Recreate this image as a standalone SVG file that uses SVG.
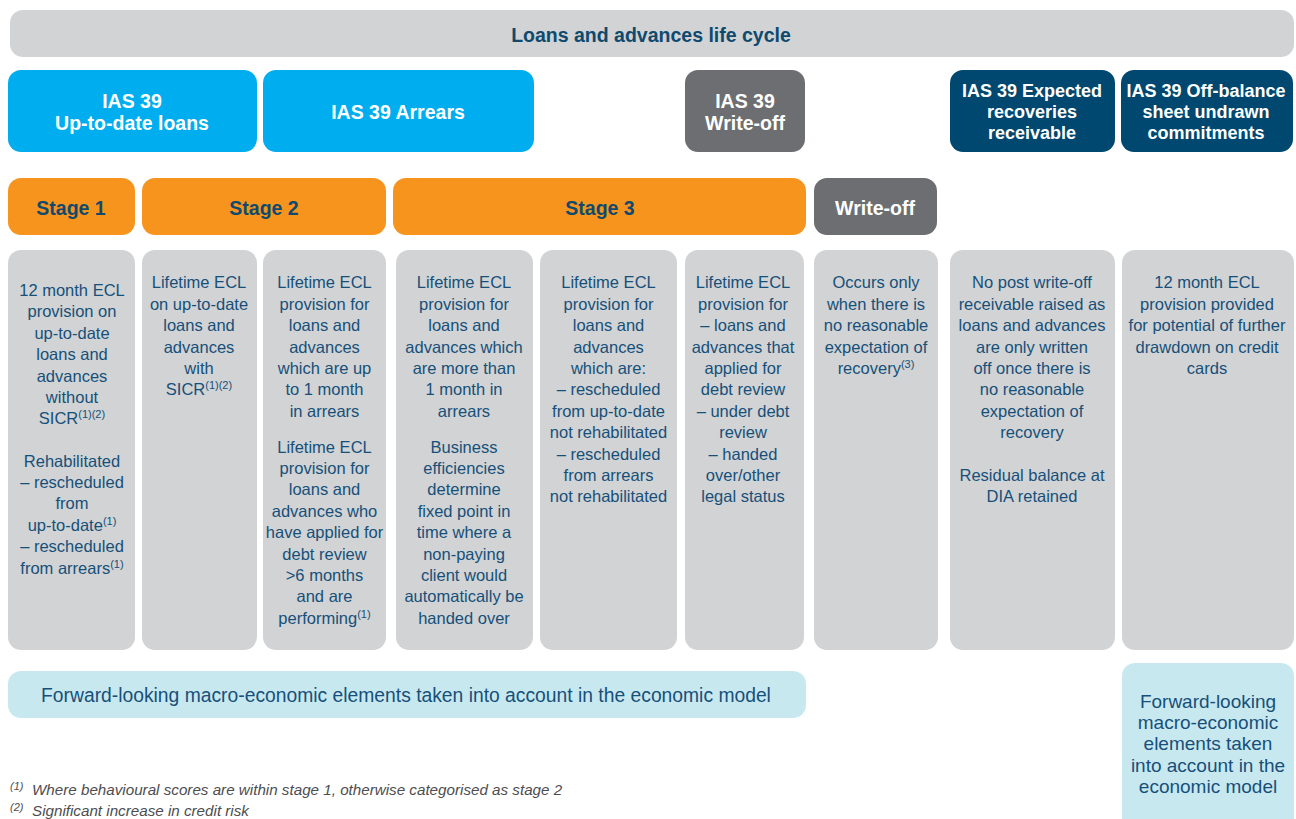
<svg xmlns="http://www.w3.org/2000/svg" width="1296" height="819" viewBox="0 0 1296 819">
<style>
text{font-family:"Liberation Sans",Arial,sans-serif;text-anchor:middle}
.hdr{fill:#d1d3d4}
.cyan{fill:#00aeef}
.grey{fill:#6d6e71}
.navy{fill:#00486f}
.orange{fill:#f7941d}
.col{fill:#d1d3d4}
.lb{fill:#c8e8f0}
.tw{fill:#ffffff;font-weight:bold;font-size:19.5px}
.tn{fill:#ffffff;font-weight:bold;font-size:18px}
.th{fill:#0f4a6e;font-weight:bold;font-size:19.5px}
.tc{fill:#16507a;font-size:16.5px}
.tb{fill:#16507a;font-size:19px}
.tbl{fill:#16507a;font-size:19.3px}
.fn{fill:#4d4d4f;font-style:italic;font-size:15.2px;text-anchor:start}
.sup{font-size:11px}
</style>
<g id="header">
<rect class="hdr" x="10" y="10" width="1284" height="47" rx="13"/>
<text class="th" x="651" y="41.5">Loans and advances life cycle</text>
</g>
<g id="ias-uptodate">
<rect class="cyan" x="8" y="70" width="249" height="82" rx="13"/>
<text class="tw" x="132" y="108">IAS 39</text>
<text class="tw" x="132" y="130">Up-to-date loans</text>
</g>
<g id="ias-arrears">
<rect class="cyan" x="263" y="70" width="271" height="82" rx="13"/>
<text class="tw" x="398" y="119">IAS 39 Arrears</text>
</g>
<g id="ias-writeoff">
<rect class="grey" x="685" y="70" width="120" height="82" rx="13"/>
<text class="tw" x="745" y="108">IAS 39</text>
<text class="tw" x="745" y="130">Write-off</text>
</g>
<g id="ias-recoveries">
<rect class="navy" x="950" y="70" width="165" height="82" rx="13"/>
<text class="tn" x="1032" y="96.5">IAS 39 Expected</text>
<text class="tn" x="1032" y="117.5">recoveries</text>
<text class="tn" x="1032" y="138.5">receivable</text>
</g>
<g id="ias-offbalance">
<rect class="navy" x="1121" y="70" width="172" height="82" rx="13"/>
<text class="tn" x="1206" y="96.5">IAS 39 Off-balance</text>
<text class="tn" x="1206" y="117.5">sheet undrawn</text>
<text class="tn" x="1206" y="138.5">commitments</text>
</g>
<g id="stage1">
<rect class="orange" x="8" y="178" width="127" height="57" rx="13"/>
<text class="th" x="71" y="215">Stage 1</text>
</g>
<g id="stage2">
<rect class="orange" x="142" y="178" width="244" height="57" rx="13"/>
<text class="th" x="264" y="215">Stage 2</text>
</g>
<g id="stage3">
<rect class="orange" x="393" y="178" width="413" height="57" rx="13"/>
<text class="th" x="600" y="215">Stage 3</text>
</g>
<g id="writeoff">
<rect class="grey" x="814" y="178" width="123" height="57" rx="13"/>
<text class="tw" x="875" y="215">Write-off</text>
</g>
<g id="col1">
<rect class="col" x="8" y="250" width="127" height="400" rx="13"/>
<text class="tc" x="72"><tspan x="72" y="296">12 month ECL</tspan><tspan x="72" y="317.4">provision on</tspan><tspan x="72" y="338.8">up-to-date</tspan><tspan x="72" y="360.2">loans and</tspan><tspan x="72" y="381.6">advances</tspan><tspan x="72" y="403">without</tspan></text>
<text class="tc" x="72" y="424.4">SICR<tspan class="sup" dy="-6">(1)(2)</tspan></text>
<text class="tc" x="72"><tspan x="72" y="466.5">Rehabilitated</tspan><tspan x="72" y="488">– rescheduled</tspan><tspan x="72" y="509.4">from</tspan></text>
<text class="tc" x="72" y="530.8">up-to-date<tspan class="sup" dy="-6">(1)</tspan></text>
<text class="tc" x="72" y="552.2">– rescheduled</text>
<text class="tc" x="72" y="573.6">from arrears<tspan class="sup" dy="-6">(1)</tspan></text>
</g>
<g id="col2">
<rect class="col" x="142" y="250" width="115" height="400" rx="13"/>
<text class="tc"><tspan x="199" y="288.3">Lifetime ECL</tspan><tspan x="199" y="309.7">on up-to-date</tspan><tspan x="199" y="331.1">loans and</tspan><tspan x="199" y="352.5">advances</tspan><tspan x="199" y="373.9">with</tspan></text>
<text class="tc" x="199" y="395.3">SICR<tspan class="sup" dy="-6">(1)(2)</tspan></text>
</g>
<g id="col3">
<rect class="col" x="263" y="250" width="123" height="400" rx="13"/>
<text class="tc"><tspan x="324.5" y="288.3">Lifetime ECL</tspan><tspan x="324.5" y="309.7">provision for</tspan><tspan x="324.5" y="331.1">loans and</tspan><tspan x="324.5" y="352.5">advances</tspan><tspan x="324.5" y="373.9">which are up</tspan><tspan x="324.5" y="395.3">to 1 month</tspan><tspan x="324.5" y="416.7">in arrears</tspan><tspan x="324.5" y="452.5">Lifetime ECL</tspan><tspan x="324.5" y="473.9">provision for</tspan><tspan x="324.5" y="495.3">loans and</tspan><tspan x="324.5" y="516.7">advances who</tspan><tspan x="324.5" y="538.1">have applied for</tspan><tspan x="324.5" y="559.5">debt review</tspan><tspan x="324.5" y="580.9">&gt;6 months</tspan><tspan x="324.5" y="602.3">and are</tspan></text>
<text class="tc" x="324.5" y="623.7">performing<tspan class="sup" dy="-6">(1)</tspan></text>
</g>
<g id="col4">
<rect class="col" x="396" y="250" width="137" height="400" rx="13"/>
<text class="tc"><tspan x="464" y="288.3">Lifetime ECL</tspan><tspan x="464" y="309.7">provision for</tspan><tspan x="464" y="331.1">loans and</tspan><tspan x="464" y="352.5">advances which</tspan><tspan x="464" y="373.9">are more than</tspan><tspan x="464" y="395.3">1 month in</tspan><tspan x="464" y="416.7">arrears</tspan><tspan x="464" y="452.5">Business</tspan><tspan x="464" y="473.9">efficiencies</tspan><tspan x="464" y="495.3">determine</tspan><tspan x="464" y="516.7">fixed point in</tspan><tspan x="464" y="538.1">time where a</tspan><tspan x="464" y="559.5">non-paying</tspan><tspan x="464" y="580.9">client would</tspan><tspan x="464" y="602.3">automatically be</tspan><tspan x="464" y="623.7">handed over</tspan></text>
</g>
<g id="col5">
<rect class="col" x="540" y="250" width="137" height="400" rx="13"/>
<text class="tc"><tspan x="608.5" y="288.3">Lifetime ECL</tspan><tspan x="608.5" y="309.7">provision for</tspan><tspan x="608.5" y="331.1">loans and</tspan><tspan x="608.5" y="352.5">advances</tspan><tspan x="608.5" y="373.9">which are:</tspan><tspan x="608.5" y="395.3">– rescheduled</tspan><tspan x="608.5" y="416.7">from up-to-date</tspan><tspan x="608.5" y="438.1">not rehabilitated</tspan><tspan x="608.5" y="459.5">– rescheduled</tspan><tspan x="608.5" y="480.9">from arrears</tspan><tspan x="608.5" y="502.3">not rehabilitated</tspan></text>
</g>
<g id="col6">
<rect class="col" x="685" y="250" width="119" height="400" rx="13"/>
<text class="tc"><tspan x="743" y="288.3">Lifetime ECL</tspan><tspan x="743" y="309.7">provision for</tspan><tspan x="743" y="331.1">– loans and</tspan><tspan x="743" y="352.5">advances that</tspan><tspan x="743" y="373.9">applied for</tspan><tspan x="743" y="395.3">debt review</tspan><tspan x="743" y="416.7">– under debt</tspan><tspan x="743" y="438.1">review</tspan><tspan x="743" y="459.5">– handed</tspan><tspan x="743" y="480.9">over/other</tspan><tspan x="743" y="502.3">legal status</tspan></text>
</g>
<g id="col7">
<rect class="col" x="814" y="250" width="124" height="400" rx="13"/>
<text class="tc"><tspan x="876" y="288.3">Occurs only</tspan><tspan x="876" y="309.7">when there is</tspan><tspan x="876" y="331.1">no reasonable</tspan><tspan x="876" y="352.5">expectation of</tspan></text>
<text class="tc" x="876" y="373.9">recovery<tspan class="sup" dy="-6">(3)</tspan></text>
</g>
<g id="col8">
<rect class="col" x="950" y="250" width="165" height="400" rx="13"/>
<text class="tc"><tspan x="1032" y="288.3">No post write-off</tspan><tspan x="1032" y="309.7">receivable raised as</tspan><tspan x="1032" y="331.1">loans and advances</tspan><tspan x="1032" y="352.5">are only written</tspan><tspan x="1032" y="373.9">off once there is</tspan><tspan x="1032" y="395.3">no reasonable</tspan><tspan x="1032" y="416.7">expectation of</tspan><tspan x="1032" y="438.1">recovery</tspan><tspan x="1032" y="480.5">Residual balance at</tspan><tspan x="1032" y="501.9">DIA retained</tspan></text>
</g>
<g id="col9">
<rect class="col" x="1122" y="250" width="172" height="400" rx="13"/>
<text class="tc"><tspan x="1207" y="288.3">12 month ECL</tspan><tspan x="1207" y="309.7">provision provided</tspan><tspan x="1207" y="331.1">for potential of further</tspan><tspan x="1207" y="352.5">drawdown on credit</tspan><tspan x="1207" y="373.9">cards</tspan></text>
</g>
<g id="forward-main">
<rect class="lb" x="8" y="671" width="798" height="47" rx="13"/>
<text class="tbl" x="406" y="701.5">Forward-looking macro-economic elements taken into account in the economic model</text>
</g>
<g id="forward-right">
<rect class="lb" x="1122" y="663" width="172" height="170" rx="13"/>
<text class="tb"><tspan x="1208" y="707.5">Forward-looking</tspan><tspan x="1208" y="728.8">macro-economic</tspan><tspan x="1208" y="750.2">elements taken</tspan><tspan x="1208" y="771.6">into account in the</tspan><tspan x="1208" y="793">economic model</tspan></text>
</g>
<g id="footnotes">
<text class="fn" x="10" y="790"><tspan class="sup">(1)</tspan></text>
<text class="fn" x="32" y="795">Where behavioural scores are within stage 1, otherwise categorised as stage 2</text>
<text class="fn" x="10" y="811"><tspan class="sup">(2)</tspan></text>
<text class="fn" x="32" y="816">Significant increase in credit risk</text>
</g>
<g id="connectors"></g>
</svg>
